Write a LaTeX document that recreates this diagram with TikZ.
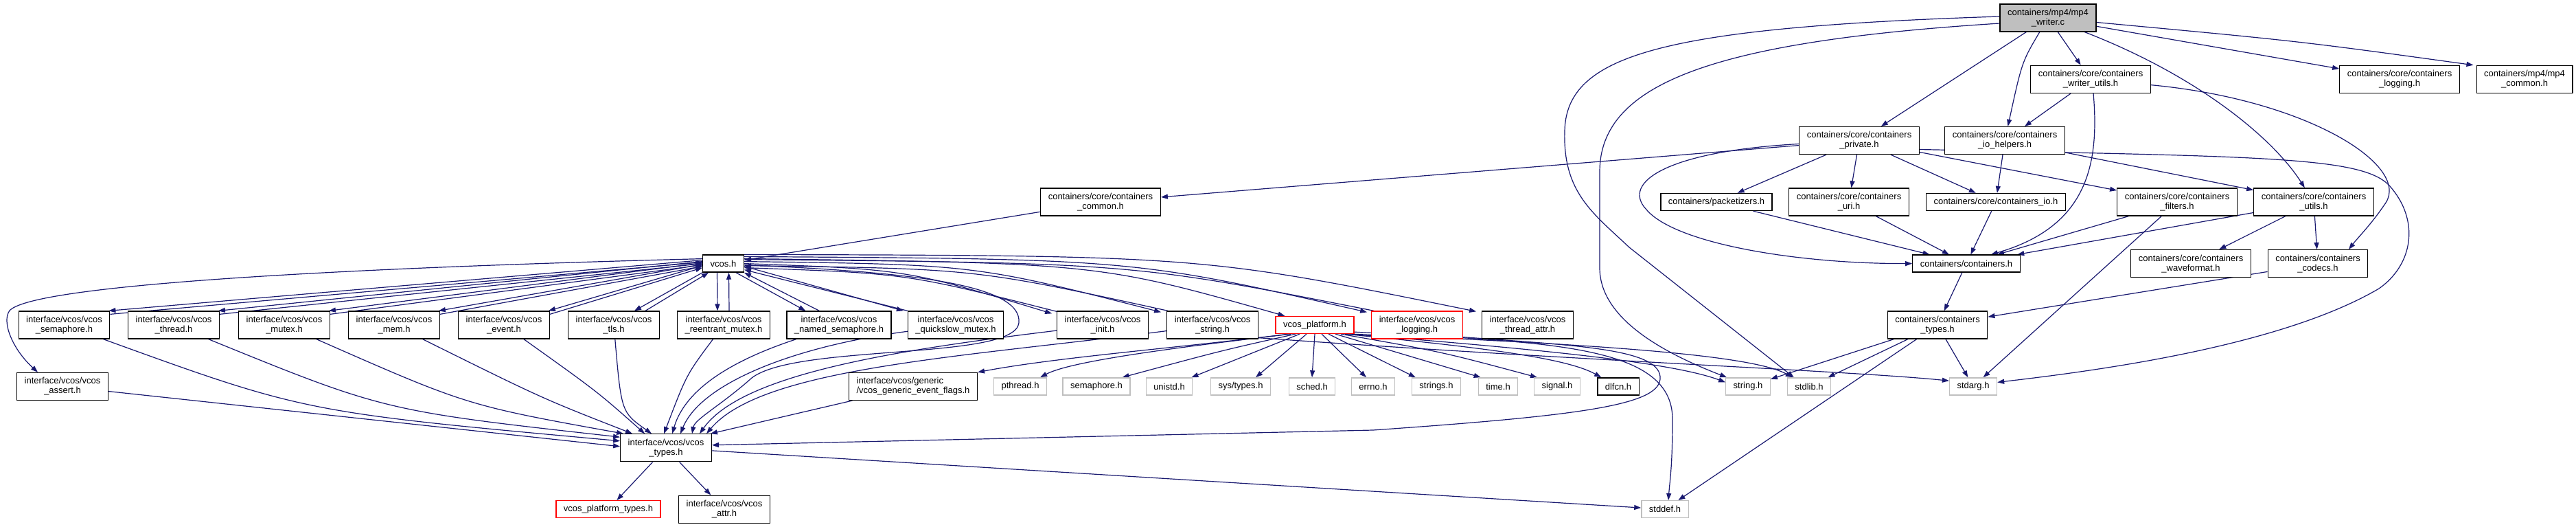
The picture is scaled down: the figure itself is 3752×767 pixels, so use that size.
\documentclass[tikz,border=0pt]{standalone}
\usepackage{fontspec}
\setmainfont{Liberation Sans}
\usetikzlibrary{arrows.meta,calc,backgrounds}
\definecolor{edgeblue}{HTML}{191970}
\definecolor{sysgray}{HTML}{BFBFBF}
\definecolor{rootgray}{HTML}{BFBFBF}
\newcommand\nodefnt{\fontsize{13pt}{14pt}\selectfont}
\begin{document}
\begin{tikzpicture}[x=1pt,y=-1pt,
 nb/.style={draw=black, line width=1.3pt, fill=white, inner xsep=11pt, inner ysep=0pt, align=center, font=\nodefnt},
 two/.style={nb, minimum height=40pt},
 one/.style={nb, minimum height=25pt},
 sys/.style={one, draw=sysgray},
 redb/.style={draw=red},
 root/.style={two, fill=rootgray},
 ed/.style={draw=edgeblue, line width=1.2pt, -{Triangle[length=10pt,width=7pt]}},
]
\useasboundingbox (0,0) rectangle (3752,767);
% rank 0
\node[root] (W) at (2983,26) {containers/mp4/mp4\\\_writer.c};
% rank 1
\node[two] (WU) at (3045,115.4) {containers/core/containers\\\_writer\_utils.h};
\node[two] (CL) at (3495,115.4) {containers/core/containers\\\_logging.h};
\node[two] (MC) at (3677,115.4) {containers/mp4/mp4\\\_common.h};
% rank 2
\node[two] (PR) at (2708,204.5) {containers/core/containers\\\_private.h};
\node[two] (IOH) at (2920,204.5) {containers/core/containers\\\_io\_helpers.h};
% rank 3
\node[two] (CC) at (1603,294) {containers/core/containers\\\_common.h};
\node[one] (PK) at (2500,294) {containers/packetizers.h};
\node[two] (URI) at (2693,294) {containers/core/containers\\\_uri.h};
\node[one] (IO) at (2907,294) {containers/core/containers\_io.h};
\node[two] (FI) at (3171,294) {containers/core/containers\\\_filters.h};
\node[two] (UT) at (3370,294) {containers/core/containers\\\_utils.h};
% rank 4
\node[one] (VC) at (1053.5,383.6) {vcos.h};
\node[one] (CH) at (2864,383.6) {containers/containers.h};
\node[two] (WF) at (3191,383.6) {containers/core/containers\\\_waveformat.h};
\node[two] (CO) at (3376,383.6) {containers/containers\\\_codecs.h};
% rank 5
\node[two] (SEM) at (93.5,473) {interface/vcos/vcos\\\_semaphore.h};
\node[two] (THR) at (253,473) {interface/vcos/vcos\\\_thread.h};
\node[two] (MUT) at (414,473) {interface/vcos/vcos\\\_mutex.h};
\node[two] (MEM) at (574,473) {interface/vcos/vcos\\\_mem.h};
\node[two] (EVT) at (734,473) {interface/vcos/vcos\\\_event.h};
\node[two] (TLS) at (894,473) {interface/vcos/vcos\\\_tls.h};
\node[two] (REM) at (1054,473) {interface/vcos/vcos\\\_reentrant\_mutex.h};
\node[two] (NSEM) at (1222,473) {interface/vcos/vcos\\\_named\_semaphore.h};
\node[two] (QSM) at (1392,473) {interface/vcos/vcos\\\_quickslow\_mutex.h};
\node[two] (INIT) at (1606,473) {interface/vcos/vcos\\\_init.h};
\node[two] (VSTR) at (1766,473) {interface/vcos/vcos\\\_string.h};
\node[one,redb] (PLAT) at (1915,473) {vcos\_platform.h};
\node[two,redb] (LOG) at (2064,473) {interface/vcos/vcos\\\_logging.h};
\node[two] (TATTR) at (2225,473) {interface/vcos/vcos\\\_thread\_attr.h};
\node[two] (CT) at (2822,473) {containers/containers\\\_types.h};
% rank 6
\node[two] (ASSERT) at (91,562.4) {interface/vcos/vcos\\\_assert.h};
\node[two,align=left] (GEF) at (1330,562.4) {interface/vcos/generic\\/vcos\_generic\_event\_flags.h};
\node[sys] (PTH) at (1486,562.4) {pthread.h};
\node[sys] (SEMH) at (1597,562.4) {semaphore.h};
\node[sys] (UNI) at (1703,562.4) {unistd.h};
\node[sys] (SYST) at (1807,562.4) {sys/types.h};
\node[sys] (SCHED) at (1911,562.4) {sched.h};
\node[sys] (ERRNO) at (2000,562.4) {errno.h};
\node[sys] (STRS) at (2092,562.4) {strings.h};
\node[sys] (TIME) at (2182,562.4) {time.h};
\node[sys] (SIG) at (2268,562.4) {signal.h};
\node[one] (DLFCN) at (2357,562.4) {dlfcn.h};
\node[sys] (STRH) at (2546,562.4) {string.h};
\node[sys] (STDLIB) at (2635,562.4) {stdlib.h};
\node[sys] (STDARG) at (2874,562.4) {stdarg.h};
% rank 7
\node[two] (VT) at (970,651.8) {interface/vcos/vcos\\\_types.h};
% rank 8
\node[one,redb] (PT) at (886,741.2) {vcos\_platform\_types.h};
\node[two] (ATTR) at (1055,741.2) {interface/vcos/vcos\\\_attr.h};
\node[sys] (STDDEF) at (2425,741.2) {stddef.h};

\begin{scope}[on background layer]
\fill[white] (0,0) rectangle (3752,767);
% writer.c
\draw[ed] (W) -- (WU);
\draw[ed] (W) -- (CL);
\draw[ed] (W) .. controls (3350,60) .. ($(MC.north west)+(-4,0)$);
\draw[ed] (W) -- (PR);
\draw[ed] (W) .. controls (2945,90) .. (IOH);
\draw[ed] (W) .. controls (3200,110) and (3310,200) .. (UT);
\draw[ed] ($(W.west)+(0,8)$) .. controls (2500,60) and (2330,120) .. (2330,250) -- (2330,390) .. controls (2330,470) and (2440,520) .. ($(STRH.north west)+(2,0)$);
\draw[ed] ($(W.west)+(0,-2)$) .. controls (2420,40) and (2282,80) .. (2279,190) .. controls (2276,280) and (2320,310) .. (2373,360) -- ($(STDLIB.north west)+(10,0)$);
% writer_utils
\draw[ed] (WU) -- (IOH);
\draw[ed] ($(WU.south)+(4,0)$) .. controls (3058,240) and (3040,330) .. ($(CH.north east)+(-43,0)$);
\draw[ed] (WU) .. controls (3360,145) and (3510,240) .. (3475,295) .. controls (3455,325) and (3435,345) .. ($(CO.north)+(45,0)$);
% private
\draw[ed] (PR) -- (CC);
\draw[ed] ($(PR.west)+(0,5)$) .. controls (2430,220) and (2360,265) .. (2398,305) .. controls (2440,355) and (2620,384) .. (CH.west);
\draw[ed] (PR) -- (PK);
\draw[ed] (PR) -- (URI);
\draw[ed] (PR) -- (IO);
\draw[ed] (PR) -- (FI);
\draw[ed] ($(PR.east)+(0,13)$) .. controls (3300,228) and (3440,228) .. (3480,270) .. controls (3525,320) and (3515,385) .. (3465,420) .. controls (3320,505) and (3050,540) .. ($(STDARG.east)+(0,-6)$);
% io_helpers
\draw[ed] (IOH) -- (IO);
\draw[ed] (IOH) -- (UT);
% rank 3 -> 4
\draw[ed] (CC) -- (VC);
\draw[ed] (PK) -- (CH);
\draw[ed] (URI) -- (CH);
\draw[ed] (IO) -- (CH);
\draw[ed] (FI) -- (CH);
\draw[ed] (FI) -- (STDARG);
\draw[ed] (UT) -- (CH);
\draw[ed] (UT) -- (WF);
\draw[ed] (UT) -- (CO);
\draw[ed] (CH) -- (CT);
\draw[ed] (CO) -- (CT);
\draw[ed] (CT) -- (STDARG);
\draw[ed] (CT) -- (STRH);
\draw[ed] (CT) -- (STDLIB);
\draw[ed] (CT) -- (STDDEF);
% vcos.h <-> headers (left)
\draw[ed] ($(VC.west)+(0,-5)$) -- ($(SEM.north east)+(-2,0)$);
\draw[ed] ($(SEM.north east)+(0,5)$) -- ($(VC.west)+(0,-2)$);
\draw[ed] ($(VC.west)+(0,-3)$) -- ($(THR.north east)+(-2,0)$);
\draw[ed] ($(THR.north east)+(0,5)$) -- ($(VC.west)+(0,0)$);
\draw[ed] ($(VC.west)+(0,-1)$) -- ($(MUT.north east)+(-2,0)$);
\draw[ed] ($(MUT.north east)+(0,5)$) -- ($(VC.west)+(0,2)$);
\draw[ed] ($(VC.west)+(0,1)$) -- ($(MEM.north east)+(-2,0)$);
\draw[ed] ($(MEM.north east)+(0,5)$) -- ($(VC.west)+(0,4)$);
\draw[ed] ($(VC.west)+(0,3)$) -- ($(EVT.north east)+(-2,0)$);
\draw[ed] ($(EVT.north east)+(0,5)$) -- ($(VC.west)+(0,6)$);
\draw[ed] (VC.south west) -- ($(TLS.north)+(30,0)$);
\draw[ed] ($(TLS.north)+(46,0)$) -- ($(VC.south west)+(9,0)$);
\draw[ed] ($(VC.south)+(-9,0)$) -- ($(REM.north)+(-9,0)$);
\draw[ed] ($(REM.north)+(8,0)$) -- ($(VC.south)+(8,0)$);
\draw[ed] ($(VC.south east)+(-12,0)$) -- ($(NSEM.north west)+(28,0)$);
\draw[ed] ($(NSEM.north west)+(48,0)$) -- (VC.south east);
\draw[ed] ($(VC.east)+(0,4)$) -- ($(QSM.north west)+(-6,0)$);
\draw[ed] (QSM.north west) -- ($(VC.east)+(0,9)$);
\draw[ed] (VC.east) .. controls (1320,392) .. ($(INIT.north west)+(-7,4)$);
\draw[ed] ($(INIT.north west)+(0,1)$) .. controls (1320,398) .. ($(VC.east)+(0,6)$);
\draw[ed] ($(VC.east)+(0,-3)$) .. controls (1420,385) .. ($(VSTR.north west)+(-8,2)$);
\draw[ed] ($(VSTR.north west)+(2,0)$) .. controls (1420,391) .. ($(VC.east)+(0,3)$);
\draw[ed] ($(VC.north east)+(0,6)$) .. controls (1600,383) .. ($(PLAT.north west)+(14,0)$);
\draw[ed] ($(VC.north east)+(0,3)$) .. controls (1650,377) .. ($(LOG.north west)+(-6,2)$);
\draw[ed] ($(LOG.north west)+(4,0)$) .. controls (1650,383) .. ($(VC.east)+(0,-6)$);
\draw[ed] (VC.north east) .. controls (1750,372) .. ($(TATTR.north west)+(-8,1)$);
\draw[ed] ($(VC.west)+(0,-7)$) .. controls (420,392) and (45,418) .. (14,452) .. controls (2,468) and (18,508) .. ($(ASSERT.north)+(-36,0)$);
\draw[ed] ($(VC.east)+(0,2)$) .. controls (1300,395) and (1490,410) .. (1484,470) .. controls (1478,525) and (1160,500) .. (1095,550) .. controls (1050,590) and (1012,610) .. ($(VT.north)+(38,0)$);
% headers -> vcos_types
\draw[ed] (ASSERT) -- ($(VT.west)+(0,-2)$);
\draw[ed] (SEM) .. controls (444,600) .. ($(VT.west)+(0,-10)$);
\draw[ed] (THR) .. controls (560,598) .. ($(VT.north west)+(0,5)$);
\draw[ed] (MUT) .. controls (680,590) .. ($(VT.north west)+(5,0)$);
\draw[ed] (MEM) .. controls (790,580) .. ($(VT.north west)+(18,0)$);
\draw[ed] (EVT) .. controls (870,570) .. ($(VT.north west)+(36,0)$);
\draw[ed] (TLS) .. controls (905,600) .. ($(VT.north west)+(46,0)$);
\draw[ed] (REM) .. controls (1000,545) .. ($(VT.north west)+(64,0)$);
\draw[ed] (NSEM) .. controls (1080,520) and (1000,560) .. ($(VT.north west)+(76,0)$);
\draw[ed] (QSM) .. controls (1150,505) and (1020,560) .. ($(VT.north west)+(88,0)$);
\draw[ed] (INIT) .. controls (1300,510) and (1080,545) .. ($(VT.north west)+(116,0)$);
\draw[ed] (VSTR) .. controls (1400,520) and (1110,535) .. ($(VT.north west)+(126,0)$);
\draw[ed] (GEF) -- ($(VT.north east)+(-2,0)$);
\draw[ed] ($(LOG.south east)+(0,-3)$) .. controls (2300,503) and (2422,508) .. (2418,552) .. controls (2414,590) and (2300,605) .. (2000,626) -- ($(VT.east)+(0,-4)$);
% vcos_platform.h
\draw[ed] ($(PLAT.south)+(-38,0)$) .. controls (1700,508) and (1540,520) .. (GEF.north east);
\draw[ed] ($(PLAT.south)+(-35,0)$) .. controls (1720,505) and (1560,525) .. ($(PTH.north east)+(-10,0)$);
\draw[ed] ($(PLAT.south)+(-28,0)$) .. controls (1780,510) .. ($(SEMH.north east)+(-12,0)$);
\draw[ed] ($(PLAT.south)+(-22,0)$) -- ($(UNI.north east)+(-2,0)$);
\draw[ed] ($(PLAT.south)+(-12,0)$) -- ($(SYST.north)+(22,0)$);
\draw[ed] (PLAT.south) -- (SCHED.north);
\draw[ed] ($(PLAT.south)+(10,0)$) -- ($(ERRNO.north)+(-10,0)$);
\draw[ed] ($(PLAT.south)+(20,0)$) -- ($(STRS.north west)+(6,0)$);
\draw[ed] ($(PLAT.south)+(30,0)$) -- ($(TIME.north west)+(4,0)$);
\draw[ed] ($(PLAT.south)+(38,0)$) .. controls (2100,512) .. ($(SIG.north west)+(5,0)$);
\draw[ed] ($(PLAT.south)+(44,0)$) .. controls (2150,505) and (2280,520) .. ($(DLFCN.north west)+(6,0)$);
\draw[ed] ($(PLAT.south east)+(-8,0)$) .. controls (2200,505) and (2430,525) .. ($(STRH.west)+(0,-6)$);
\draw[ed] ($(PLAT.south east)+(-4,0)$) .. controls (2300,500) and (2550,515) .. ($(STDLIB.north west)+(8,0)$);
\draw[ed] ($(PLAT.south east)+(0,-3)$) .. controls (2250,498) and (2436,500) .. (2436,610) .. controls (2436,680) and (2432,700) .. ($(STDDEF.north)+(5,0)$);
% vcos_string.h
\draw[ed] ($(VSTR.south east)+(0,-2)$) .. controls (2300,525) and (2700,540) .. ($(STDARG.north west)+(0,5)$);
% vcos_types
\draw[ed] (VT) -- (PT);
\draw[ed] (VT) -- (ATTR);
\draw[ed] (VT) -- (STDDEF);
\end{scope}
\end{tikzpicture}
\end{document}
